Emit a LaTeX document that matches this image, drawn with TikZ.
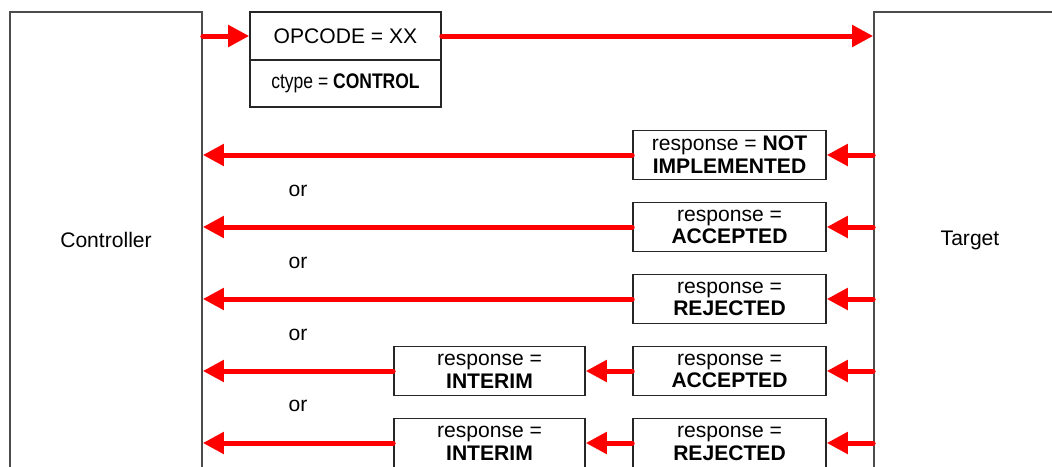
\documentclass[tikz,border=0pt]{standalone}
\usepackage{fontspec}
\setmainfont{Liberation Sans}
\newfontfamily\narrowfont[FakeStretch=0.83]{Liberation Sans}
\usetikzlibrary{arrows.meta,positioning}

\begin{document}
\begin{tikzpicture}[
  party/.style={rectangle,draw=black!70,line width=1pt,minimum width=3.84cm,minimum height=9.12cm,font=\fontsize{12}{13}\selectfont},
  msg/.style={rectangle,draw=black!85,line width=0.9pt,align=center,minimum width=3.86cm,minimum height=0.98cm,inner sep=1pt,font=\fontsize{12}{13}\selectfont},
  ortext/.style={font=\fontsize{12}{13}\selectfont},
  arrow/.style={-{Triangle[length=0.42cm,width=0.42cm]},red,line width=0.1cm,line cap=round}
]
\clip (0,0) rectangle (21.04,-9.32);

% Teilnehmer
\node[party] (ctrl) at (2.12,-4.80) {Controller};
\node[party] (tgt) at (19.40,-4.80) {Target};

% Befehl
\node[msg,minimum width=3.82cm,minimum height=0.96cm] (opcode) at (6.91,-0.72) {OPCODE = XX};
\node[msg,minimum width=3.82cm,minimum height=0.94cm,below=-0.9pt of opcode] (ctype) {\narrowfont ctype = \textbf{CONTROL}};

% Antworten
\node[msg] (notimpl) at (14.59,-3.10) {response = \textbf{NOT}\\\textbf{IMPLEMENTED}};
\node[msg] (acc) at (14.59,-4.54) {response =\\\textbf{ACCEPTED}};
\node[msg] (rej) at (14.59,-5.98) {response =\\\textbf{REJECTED}};
\node[msg] (acc2) at (14.59,-7.42) {response =\\\textbf{ACCEPTED}};
\node[msg] (rej2) at (14.59,-8.86) {response =\\\textbf{REJECTED}};
\node[msg,minimum width=3.82cm] (int1) at (9.79,-7.42) {response =\\\textbf{INTERIM}};
\node[msg,minimum width=3.82cm] (int2) at (9.79,-8.86) {response =\\\textbf{INTERIM}};

\node[ortext] (or1) at (5.96,-3.82) {or};
\node[ortext] (or2) at (5.96,-5.26) {or};
\node[ortext] (or3) at (5.96,-6.70) {or};
\node[ortext] (or4) at (5.96,-8.12) {or};

% Befehl zum Target
\draw[arrow] (ctrl.east |- opcode.west) -- (opcode.west);
\draw[arrow] (opcode.east) -- (tgt.west |- opcode.east);

% direkte Antworten
\draw[arrow] (tgt.west |- notimpl.east) -- (notimpl.east);
\draw[arrow] (notimpl.west) -- (ctrl.east |- notimpl.west);
\draw[arrow] (tgt.west |- acc.east) -- (acc.east);
\draw[arrow] (acc.west) -- (ctrl.east |- acc.west);
\draw[arrow] (tgt.west |- rej.east) -- (rej.east);
\draw[arrow] (rej.west) -- (ctrl.east |- rej.west);

% Antworten nach INTERIM
\draw[arrow] (tgt.west |- acc2.east) -- (acc2.east);
\draw[arrow] (acc2.west) -- (int1.east);
\draw[arrow] (int1.west) -- (ctrl.east |- int1.west);
\draw[arrow] (tgt.west |- rej2.east) -- (rej2.east);
\draw[arrow] (rej2.west) -- (int2.east);
\draw[arrow] (int2.west) -- (ctrl.east |- int2.west);

\end{tikzpicture}
\end{document}
